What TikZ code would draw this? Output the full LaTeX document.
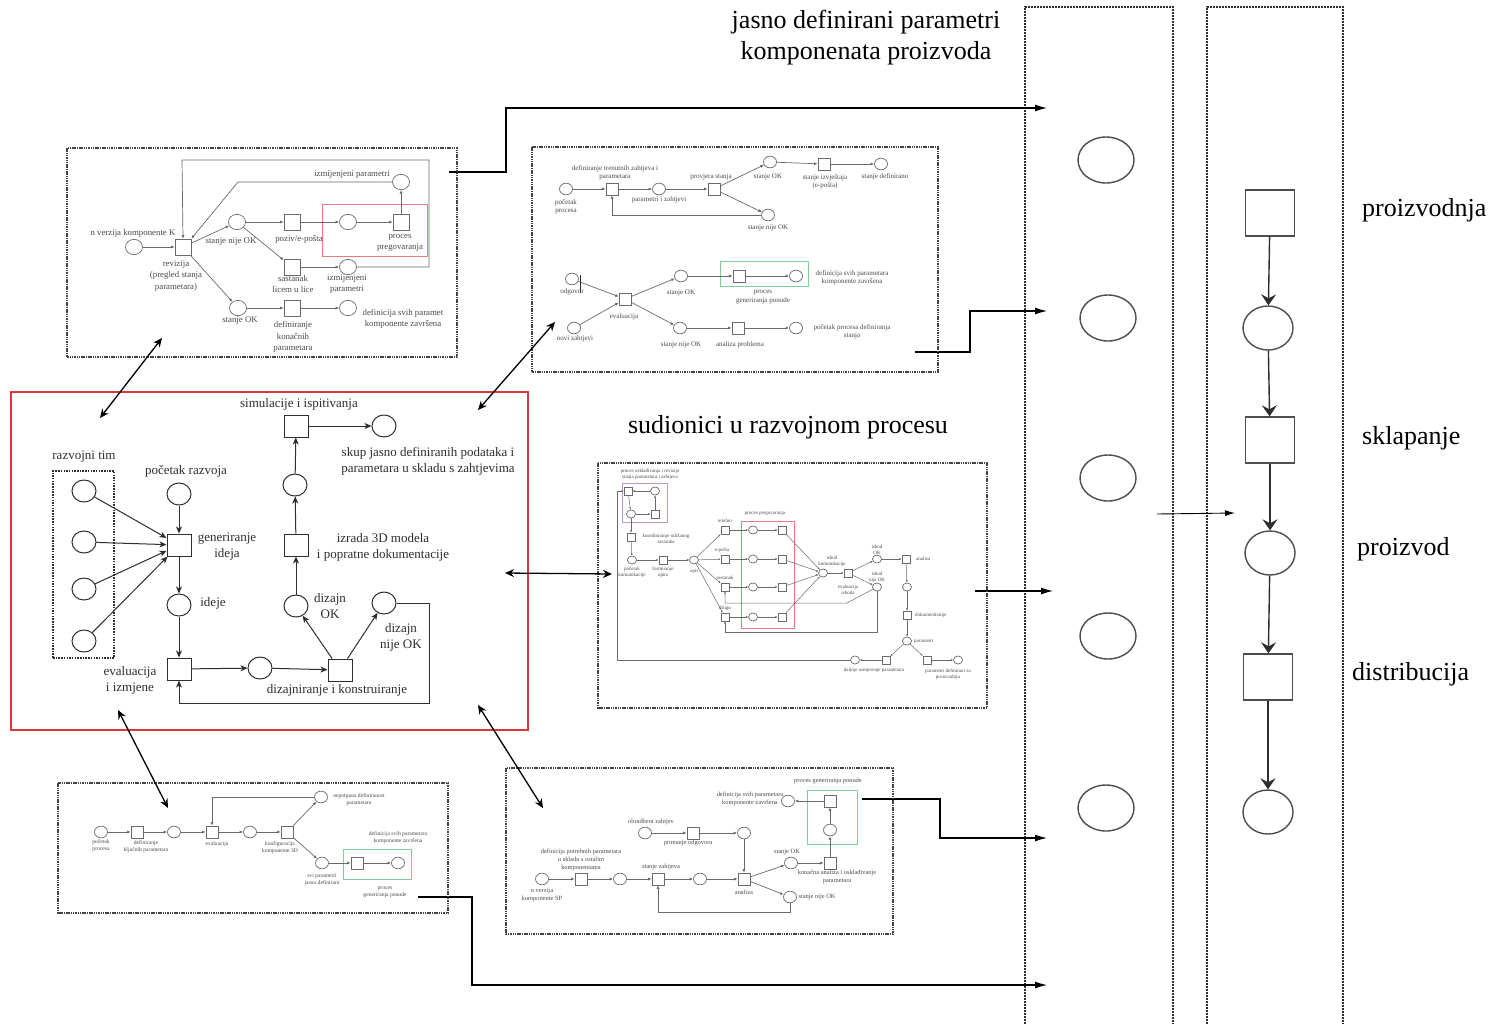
\documentclass[tikz,border=0pt]{standalone}
\usepackage{fontspec}
\setmainfont{Liberation Serif}
\usetikzlibrary{arrows.meta,shapes.geometric}
\definecolor{ln}{HTML}{6A6A6A}
\definecolor{dk}{HTML}{2E2E2E}
\definecolor{txg}{HTML}{4A4A4A}
\definecolor{redb}{HTML}{D9363E}
\definecolor{pinkb}{HTML}{E67C7C}
\definecolor{grnb}{HTML}{7FCF9B}
\definecolor{purb}{HTML}{B79AD9}
\begin{document}
\begin{tikzpicture}[x=1pt,y=-1pt,
  pl/.style={ellipse,draw=ln,fill=white,line width=0.7,inner sep=0,minimum width=#1,minimum height=0.9*#1},
  tr/.style={rectangle,draw=ln,fill=white,line width=0.7,inner sep=0,minimum width=#1,minimum height=#1},
  ar/.style={draw=ln,line width=0.7,-{Latex[length=3.5,width=3]}},
  arc/.style={draw=ln,line width=0.5,-{Latex[length=2.2,width=2]}},
  fA/.style={font=\fontsize{8.8}{11.5}\selectfont,text=txg,align=center,inner sep=0},
  fB/.style={font=\fontsize{7}{8.5}\selectfont,text=txg,align=center,inner sep=0},
  fC/.style={font=\fontsize{5}{6}\selectfont,text=txg,align=center,inner sep=0},
  fD/.style={font=\fontsize{5.6}{7}\selectfont,text=txg,align=center,inner sep=0},
  fE/.style={font=\fontsize{6.4}{7.6}\selectfont,text=txg,align=center,inner sep=0},
  fM/.style={font=\fontsize{13}{16}\selectfont,text=dk,align=center,inner sep=0},
  fL/.style={font=\fontsize{26}{31}\selectfont,text=black,align=center,inner sep=0},
  fR/.style={font=\fontsize{26}{31}\selectfont,text=black,anchor=west,inner sep=0},
  cpl/.style={ellipse,draw=dk,fill=white,line width=1,inner sep=0,minimum width=24,minimum height=22},
  ctr/.style={rectangle,draw=dk,fill=white,line width=1,inner sep=0,minimum width=24,minimum height=22},
  car/.style={draw=dk,line width=1,-{Stealth[length=7,width=6,inset=2]}},
  bpl/.style={ellipse,draw=dk!85,line width=1.4,inner sep=0,minimum width=56,minimum height=46},
  rpl/.style={ellipse,draw=dk!85,line width=1.4,inner sep=0,minimum width=50,minimum height=44},
  rtr/.style={rectangle,draw=dk!85,line width=1.4,inner sep=0,minimum width=49,minimum height=46},
  rar/.style={draw=dk,line width=1.4,-{Stealth[length=11,width=15,inset=4]}},
  con/.style={draw=black,line width=1.1,-{Latex[length=12,width=7]}},
  bi/.style={draw=black,line width=1.3,{Stealth[length=9,width=8]}-{Stealth[length=9,width=8]}},
  sbox/.style={draw=dk!90,line width=1.5,dash pattern=on 1.5pt off 0.8pt},
  colb/.style={draw=dk,line width=1.1,dash pattern=on 2pt off 1pt}
]
\useasboundingbox (0,0) rectangle (1495,1023);
\fill[white] (0,0) rectangle (1495,1023);

% ================= right columns =================
\draw[colb] (1025,1030) -- (1025,7) -- (1173,7) -- (1173,1030);
\draw[colb] (1207,1030) -- (1207,7) -- (1343,7) -- (1343,1030);
\node[bpl] (c1) at (1106,160) {};
\node[bpl] (c2) at (1108,318) {};
\node[bpl] (c3) at (1108,478) {};
\node[bpl] (c4) at (1108,636) {};
\node[bpl] (c5) at (1106,808) {};

\node[rtr] (s1) at (1270,213) {};
\node[rpl] (p1) at (1268,328) {};
\node[rtr] (s2) at (1270,440) {};
\node[rpl] (p2) at (1270,553) {};
\node[rtr] (s3) at (1268,677) {};
\node[rpl] (p3) at (1268,812) {};
\draw[rar] (s1) -- (p1);
\draw[rar] (p1) -- (s2);
\draw[rar] (s2) -- (p2);
\draw[rar] (p2) -- (s3);
\draw[rar] (s3) -- (p3);
\node[fR] (lr1) at (1362,210) {proizvodnja};
\node[fR] (lr2) at (1362,438) {sklapanje};
\node[fR] (lr3) at (1357,549) {proizvod};
\node[fR] (lr4) at (1352,674) {distribucija};

\coordinate (m1) at (1157,514);
\coordinate (m2) at (1235,513);
\draw[draw=black,line width=0.9,-{Latex[length=10,width=6]}] (m1) -- (m2);

\node[fL] (title) at (866,38) {jasno definirani parametri\\komponenata proizvoda};
\node[fL] (sud) at (788,427) {sudionici u razvojnom procesu};

% connectors to column
\coordinate (k1a) at (449,172); \coordinate (k1b) at (1047,108);
\draw[con] (k1a) -- (506,172) -- (506,108) -- (k1b);
\coordinate (k2a) at (915,352); \coordinate (k2b) at (1047,311);
\draw[con] (k2a) -- (970,352) -- (970,311) -- (k2b);
\coordinate (k3a) at (975,591); \coordinate (k3b) at (1053,591);
\draw[con] (k3a) -- (k3b);
\coordinate (k4a) at (862,799); \coordinate (k4b) at (1047,838);
\draw[con] (k4a) -- (940,799) -- (940,838) -- (k4b);
\coordinate (k5a) at (418,897); \coordinate (k5b) at (1047,985);
\draw[con] (k5a) -- (472,897) -- (472,985) -- (k5b);

% ================= central red box =================
\draw[redb,line width=1.8] (11,392) rectangle (528,730);
\node[ctr] (simS) at (296,426) {};
\node[cpl] (simP) at (384,426) {};
\node[cpl] (mP) at (295,485) {};
\node[ctr] (izS) at (296,545) {};
\node[cpl] (okP) at (296,606) {};
\node[cpl] (nokP) at (384,603) {};
\node[ctr] (dkS) at (340,670) {};
\node[cpl] (midP) at (260,668) {};
\node[ctr] (evS) at (179,669) {};
\node[cpl] (idP) at (179,605) {};
\node[ctr] (genS) at (179,545) {};
\node[cpl] (stP) at (179,494) {};
\node[draw=dk,line width=1.1,dash pattern=on 1.5pt off 1.2pt,minimum width=61,minimum height=187,inner sep=0] (team) at (83.5,564.5) {};
\node[cpl] (tm1) at (84,491) {};
\node[cpl] (tm2) at (84,542) {};
\node[cpl] (tm3) at (84,589) {};
\node[cpl] (tm4) at (84,641) {};
\draw[car] (tm1) -- (genS);
\draw[car] (tm2) -- (genS);
\draw[car] (tm3) -- (genS);
\draw[car] (tm4) -- (genS);
\draw[car] (stP) -- (genS);
\draw[car] (genS) -- (idP);
\draw[car] (idP) -- (evS);
\draw[car] (evS) -- (midP);
\draw[car] (midP) -- (dkS);
\draw[car] (dkS) -- (okP);
\draw[car] (dkS) -- (nokP);
\draw[car] (okP) -- (izS);
\draw[car] (izS) -- (mP);
\draw[car] (mP) -- (simS);
\draw[car] (simS) -- (simP);
\draw[car] (nokP.east) -- (429,603) -- (429,703) -| (evS.south);
\node[fM] (lsim) at (299,404) {simulacije i ispitivanja};
\node[fM] (lskup) at (428,461) {skup jasno definiranih podataka i\\parametara u skladu s zahtjevima};
\node[fM] (liz) at (383,547) {izrada 3D modela\\i popratne dokumentacije};
\node[fM] (lok) at (330,606) {dizajn\\OK};
\node[fM] (lnok) at (401,637) {dizajn\\nije OK};
\node[fM] (ldk) at (337,690) {dizajniranje i konstruiranje};
\node[fM] (lev) at (130,680) {evaluacija\\i izmjene};
\node[fM] (lid) at (213,603) {ideje};
\node[fM] (lgen) at (227,547) {generiranje\\ideja};
\node[fM] (lst) at (186,471) {početak razvoja};
\node[fM] (ltm) at (84,457) {razvojni tim};

% ================= subnet A =================
\draw[sbox] (67,148) rectangle (457,357);
\draw[pinkb,line width=0.8] (322,204) rectangle (427,256);
\node[pl=17] (A1) at (134,247) {};
\node[tr=16] (A2) at (183,247) {};
\node[pl=17] (A3) at (237,222) {};
\node[tr=16] (A4) at (292,222) {};
\node[pl=17] (A5) at (348,222) {};
\node[tr=16] (A6) at (401,222) {};
\node[pl=17] (A7) at (401,182) {};
\node[tr=16] (A8) at (292,267) {};
\node[pl=17] (A9) at (348,267) {};
\node[pl=17] (A10) at (238,308) {};
\node[tr=16] (A11) at (292,308) {};
\node[pl=17] (A12) at (348,308) {};
\draw[ar] (A1) -- (A2);
\draw[ar] (A2) -- (A3);
\draw[ar] (A2) -- (A10);
\draw[ar] (A3) -- (A4);
\draw[ar] (A4) -- (A5);
\draw[ar] (A5) -- (A6);
\draw[ar] (A6) -- (A7);
\draw[ar] (A3) -- (A8);
\draw[ar] (A8) -- (A9);
\draw[ar] (A10) -- (A11);
\draw[ar] (A11) -- (A12);
\draw[ar] (A7.west) -- (238,182) -- (A2.north east);
\draw[ar] (A9.east) -- (429,267) -- (429,160) -- (182,160) -- (A2.north);
\node[fA] (lA1) at (133,233) {n verzija komponente K};
\node[fA] (lA2) at (176,276) {revizija\\(pregled stanja\\parametara)};
\node[fA] (lA3) at (231,242) {stanje nije OK};
\node[fA] (lA4) at (299,239) {poziv/e-pošta};
\node[fA] (lA6) at (400,243) {proces\\pregovaranja};
\node[fA] (lA7) at (352,175) {izmijenjeni parametri};
\node[fA] (lA8) at (293,284) {sastanak\\licem u lice};
\node[fA] (lA9) at (347,284) {izmijenjeni\\parametri};
\node[fA] (lA10) at (240,321) {stanje OK};
\node[fA] (lA11) at (293,337) {definiranje\\konačnih\\parametara};
\node[fA] (lA12) at (403,319) {definicija svih paramet\\komponente završena};

% ================= subnet B =================
\draw[sbox] (532,147) rectangle (938,372);
\draw[grnb,line width=0.8] (720,261) rectangle (808,286);
\node[pl=13] (B1) at (566,189) {};
\node[tr=12] (B2) at (612,189) {};
\node[pl=13] (B3) at (659,189) {};
\node[tr=12] (B4) at (714,189) {};
\node[pl=13] (B5) at (770,162) {};
\node[tr=12] (B6) at (824,164) {};
\node[pl=13] (B7) at (881,164) {};
\node[pl=13] (B8) at (768,215) {};
\node[pl=13] (B9) at (572,279) {};
\node[pl=13] (B10) at (574,328) {};
\node[tr=12] (B11) at (625,299) {};
\node[pl=13] (B12) at (681,276) {};
\node[tr=12] (B13) at (739,276) {};
\node[pl=13] (B14) at (796,276) {};
\node[pl=13] (B15) at (680,328) {};
\node[tr=12] (B16) at (738,328) {};
\node[pl=13] (B17) at (796,328) {};
\draw[ar] (B1) -- (B2);
\draw[ar] (B2) -- (B3);
\draw[ar] (B3) -- (B4);
\draw[ar] (B4) -- (B5);
\draw[ar] (B5) -- (B6);
\draw[ar] (B6) -- (B7);
\draw[ar] (B4) -- (B8);
\draw[ar] (B8.west) -| (B2.south);
\draw[ar] (B9) -- (B11);
\draw[ar] (B10) -- (B11);
\draw[ar] (B11) -- (B12);
\draw[ar] (B11) -- (B15);
\draw[ar] (B12) -- (B13);
\draw[ar] (B13) -- (B14);
\draw[ar] (B15) -- (B16);
\draw[ar] (B16) -- (B17);
\coordinate (mk1) at (580,275); \coordinate (mk2) at (580,293);
\draw[dk,line width=0.9] (mk1) -- (mk2);
\node[fB] (lB1) at (566,207) {početak\\procesa};
\node[fB] (lB2) at (615,173) {definiranje trenutnih zahtjeva i\\parametara};
\node[fB] (lB3) at (659,200) {parametri i zahtjevi};
\node[fB] (lB4) at (711,177) {provjera stanja};
\node[fB] (lB5) at (768,177) {stanje OK};
\node[fB] (lB6) at (825,182) {stanje izvještaja\\(e-pošta)};
\node[fB] (lB7) at (885,177) {stanje definirano};
\node[fB] (lB8) at (768,228) {stanje nije OK};
\node[fB] (lB9) at (572,292) {odgovor};
\node[fB] (lB10) at (575,339) {novi zahtjevi};
\node[fB] (lB11) at (624,317) {evaluacija};
\node[fB] (lB12) at (681,293) {stanje OK};
\node[fB] (lB13) at (763,297) {proces\\generiranja ponude};
\node[fB] (lB14) at (852,278) {definicija svih parametara\\komponente završena};
\node[fB] (lB15) at (681,345) {stanje nije OK};
\node[fB] (lB16) at (740,345) {analiza problema};
\node[fB] (lB17) at (852,332) {početak procesa definiranja\\stanja};

% ================= subnet C =================
\draw[sbox] (598,463) rectangle (987,708);
\draw[purb,line width=0.7] (622,483) rectangle (667,522);
\draw[pinkb,line width=0.7] (741,521) rectangle (794,628);
\node[tr=8] (C1) at (628,491) {};
\node[pl=9] (C2) at (655,491) {};
\node[pl=9] (C3) at (631,514) {};
\node[tr=8] (C4) at (655,514) {};
\node[tr=8] (C5) at (631,537) {};
\node[pl=9] (C6) at (632,560) {};
\node[tr=8] (C7) at (663,560) {};
\node[pl=9] (C8) at (694,560) {};
\node[tr=8] (C9) at (725,530) {};
\node[tr=8] (C10) at (725,559) {};
\node[tr=8] (C11) at (725,587) {};
\node[tr=8] (C12) at (725,617) {};
\node[pl=9] (C13) at (753,530) {};
\node[pl=9] (C14) at (753,559) {};
\node[pl=9] (C15) at (753,587) {};
\node[pl=9] (C16) at (753,617) {};
\node[tr=8] (C17) at (782,530) {};
\node[tr=8] (C18) at (782,559) {};
\node[tr=8] (C19) at (782,587) {};
\node[tr=8] (C20) at (782,617) {};
\node[pl=9] (C21) at (823,573) {};
\node[tr=8] (C22) at (848,573) {};
\node[pl=9] (C23) at (877,559) {};
\node[pl=9] (C24) at (877,587) {};
\node[tr=8] (C25) at (906,559) {};
\node[pl=9] (C26) at (907,587) {};
\node[tr=8] (C27) at (907,615) {};
\node[pl=9] (C28) at (907,641) {};
\node[tr=8] (C29) at (886,660) {};
\node[tr=8] (C30) at (927,660) {};
\node[pl=9] (C31) at (958,660) {};
\node[pl=9] (C32) at (855,660) {};
\draw[arc] (C2) -- (C1);
\draw[arc] (C1) -- (C3);
\draw[arc] (C3) -- (C4);
\draw[arc] (C4) -- (C2);
\draw[arc] (C3) -- (C5);
\draw[arc] (C5) -- (C6);
\draw[arc] (C6) -- (C7);
\draw[arc] (C7) -- (C8);
\draw[arc] (C8) -- (C9);
\draw[arc] (C8) -- (C10);
\draw[arc] (C8) -- (C11);
\draw[arc] (C8) -- (C12);
\draw[arc] (C9) -- (C13);
\draw[arc] (C10) -- (C14);
\draw[arc] (C11) -- (C15);
\draw[arc] (C12) -- (C16);
\draw[arc] (C13) -- (C17);
\draw[arc] (C14) -- (C18);
\draw[arc] (C15) -- (C19);
\draw[arc] (C16) -- (C20);
\draw[arc] (C17) -- (C21);
\draw[arc] (C18) -- (C21);
\draw[arc] (C19) -- (C21);
\draw[arc] (C20) -- (C21);
\draw[arc] (C21) -- (C22);
\draw[arc] (C22) -- (C23);
\draw[arc] (C22) -- (C24);
\draw[arc] (C23) -- (C25);
\draw[arc] (C25) -- (C26);
\draw[arc] (C26) -- (C27);
\draw[arc] (C27) -- (C28);
\draw[arc] (C28) -- (C29);
\draw[arc] (C28) -- (C30);
\draw[arc] (C29) -- (C32);
\draw[arc] (C30) -- (C31);
\draw[arc] (C24) -- (847,603) -| (C11.south);
\draw[arc] (C24.south) -- (877,632) -| (C12.south);
\draw[arc] (C32.west) -- (617,660) -- (617,491) -- (C1.west);
\node[fC] (lC1) at (650,474) {proces usklađivanja i revizije\\stanja parametara i zahtjeva};
\node[fC] (lC5) at (666,539) {koordiniranje održanog\\sastanka};
\node[fC] (lC6) at (632,572) {početak\\komunikacije};
\node[fC] (lC7) at (663,572) {formiranje\\upita};
\node[fC] (lC8) at (694,571) {upit};
\node[fC] (lC9) at (725,521) {telefon};
\node[fC] (lC10) at (722,550) {e-pošta};
\node[fC] (lC11) at (725,578) {sastanak};
\node[fC] (lC12) at (725,608) {drugo};
\node[fC] (lCr) at (765,513) {proces pregovaranja};
\node[fC] (lC21) at (832,561) {ishod\\komunikacije};
\node[fC] (lC22) at (848,590) {evaluacija\\ishoda};
\node[fC] (lC23) at (877,550) {ishod\\OK};
\node[fC] (lC24) at (877,577) {ishod\\nije OK};
\node[fC,anchor=west] (lC25) at (916,559) {analiza};
\node[fC,anchor=west] (lC27) at (915,615) {dokumentiranje};
\node[fC,anchor=west] (lC28) at (914,641) {parametri};
\node[fC] (lC32) at (874,670) {daljnje usmjerenje parametara};
\node[fC] (lC31) at (948,674) {parametri definirani za\\proizvodnju};

% ================= subnet D =================
\draw[sbox] (58,783) rectangle (448,913);
\draw[grnb,line width=0.8] (343,849) rectangle (411,879);
\node[pl=13] (D1) at (101,832) {};
\node[tr=12] (D2) at (137,832) {};
\node[pl=13] (D3) at (174,832) {};
\node[tr=12] (D4) at (212,832) {};
\node[pl=13] (D5) at (250,832) {};
\node[tr=12] (D6) at (287,832) {};
\node[pl=13] (D7) at (321,797) {};
\node[pl=13] (D8) at (322,863) {};
\node[tr=12] (D9) at (357,863) {};
\node[pl=13] (D10) at (398,863) {};
\draw[ar] (D1) -- (D2);
\draw[ar] (D2) -- (D3);
\draw[ar] (D3) -- (D4);
\draw[ar] (D4) -- (D5);
\draw[ar] (D5) -- (D6);
\draw[ar] (D6) -- (D7);
\draw[ar] (D6) -- (D8);
\draw[ar] (D8) -- (D9);
\draw[ar] (D9) -- (D10);
\draw[ar] (D7.west) -| (D4.north);
\node[fD] (lD1) at (101,846) {početak\\procesa};
\node[fD] (lD2) at (146,847) {definiranje\\ključnih parametara};
\node[fD] (lD4) at (217,844) {evaluacija};
\node[fD] (lD6) at (280,848) {konfiguracija\\komponente 3D};
\node[fD] (lD7) at (359,800) {nepotpuna definiranost\\parametara};
\node[fD] (lD8) at (322,880) {svi parametri\\jasno definirani};
\node[fD] (lD10) at (398,838) {definicija svih parametara\\komponente završena};
\node[fD] (lDg) at (385,892) {proces\\generiranja ponude};

% ================= subnet E =================
\draw[sbox] (506,768) rectangle (893,934);
\draw[grnb,line width=0.8] (807,790) rectangle (857,844);
\node[pl=13] (E1) at (542,879) {};
\node[tr=12] (E2) at (581,879) {};
\node[pl=13] (E3) at (620,879) {};
\node[tr=12] (E4) at (658,879) {};
\node[pl=13] (E5) at (700,879) {};
\node[tr=12] (E6) at (744,879) {};
\node[pl=13] (E7) at (645,833) {};
\node[tr=12] (E8) at (693,833) {};
\node[pl=13] (E9) at (744,833) {};
\node[pl=13] (E10) at (791,863) {};
\node[tr=12] (E11) at (830,863) {};
\node[pl=13] (E12) at (790,897) {};
\node[pl=13] (E13) at (830,830) {};
\node[tr=12] (E14) at (830,801) {};
\node[pl=13] (E15) at (788,801) {};
\draw[ar] (E1) -- (E2);
\draw[ar] (E2) -- (E3);
\draw[ar] (E3) -- (E4);
\draw[ar] (E4) -- (E5);
\draw[ar] (E5) -- (E6);
\draw[ar] (E7) -- (E8);
\draw[ar] (E8) -- (E9);
\draw[ar] (E9) -- (E6);
\draw[ar] (E6) -- (E10);
\draw[ar] (E6) -- (E12);
\draw[ar] (E10) -- (E11);
\draw[ar] (E11) -- (E13);
\draw[ar] (E13) -- (E14);
\draw[ar] (E14) -- (E15);
\draw[ar] (E12.south) -- (790,912) -| (E4.south);
\node[fE] (lE1) at (542,895) {n verzija\\komponente SP};
\node[fE] (lE2) at (581,860) {definicija potrebnih parametara\\u skladu s ostalim\\komponentama};
\node[fE] (lE4) at (661,867) {stanje zahtjeva};
\node[fE] (lE6) at (744,892) {analiza};
\node[fE] (lE7) at (651,822) {obradbeni zahtjev};
\node[fE] (lE8) at (688,843) {primanje odgovora};
\node[fE] (lE10) at (787,852) {stanje OK};
\node[fE] (lE11) at (837,877) {konačna analiza i usklađivanje\\parametara};
\node[fE] (lE12) at (817,897) {stanje nije OK};
\node[fE] (lEg) at (828,781) {proces generiranja ponude};
\node[fE] (lE15) at (750,799) {definicija svih parametara\\komponente završena};

% ================= bidirectional links =================
\coordinate (b1a) at (162,338); \coordinate (b1b) at (100,418);
\draw[bi] (b1a) -- (b1b);
\coordinate (b2a) at (555,322); \coordinate (b2b) at (478,410);
\draw[bi] (b2a) -- (b2b);
\coordinate (b3a) at (505,573); \coordinate (b3b) at (612,574);
\draw[bi] (b3a) -- (b3b);
\coordinate (b4a) at (118,710); \coordinate (b4b) at (168,808);
\draw[bi] (b4a) -- (b4b);
\coordinate (b5a) at (478,705); \coordinate (b5b) at (543,808);
\draw[bi] (b5a) -- (b5b);
\end{tikzpicture}
\end{document}
